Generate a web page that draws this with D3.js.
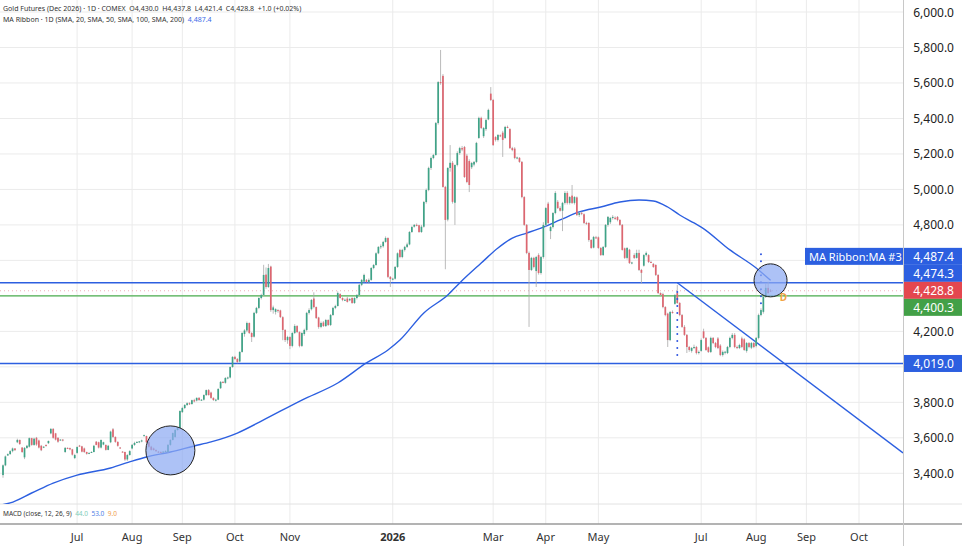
<!DOCTYPE html>
<html>
<head>
<meta charset="utf-8">
<script src="https://cdn.jsdelivr.net/npm/d3@7"></script>
<style>
  body { margin: 0; background: #fff; }
  svg { display: block; font-family: "Noto Sans", sans-serif; }
</style>
</head>
<body>
<div id="chart"></div>
<script>
// daily bars [open, high, low, close], first bar = 2025-05-19
const candles = [
  [3390,3450,3375,3445],[3445,3500,3440,3495],[3500,3512,3500,3508],[3508,3530,3505,3525],[3525,3545,3518,3540],[3540,3542,3528,3530],[3575,3595,3570,3588],[3588,3590,3560,3565],[3545,3548,3515,3520],[3490,3548,3480,3543],
  [3543,3560,3538,3555],[3550,3602,3545,3598],[3598,3600,3555,3560],[3560,3600,3555,3595],[3600,3605,3555,3562],[3585,3590,3540,3545],[3555,3560,3525,3530],[3545,3552,3542,3550],[3560,3562,3550,3554],[3570,3585,3565,3582],
  [3625,3655,3620,3650],[3650,3655,3595,3600],[3625,3628,3585,3590],[3600,3603,3572,3578],[3588,3592,3585,3590],[3590,3592,3580,3585],[3520,3548,3515,3543],[3543,3546,3538,3542],[3542,3545,3530,3535],[3535,3538,3500,3505],
  [3486,3510,3480,3503],[3515,3552,3510,3548],[3556,3560,3550,3552],[3552,3555,3518,3522],[3540,3545,3515,3520],[3520,3522,3505,3510],[3512,3518,3508,3515],[3518,3524,3515,3520],[3520,3560,3518,3555],[3578,3582,3558,3560],
  [3575,3578,3540,3545],[3545,3590,3540,3588],[3562,3578,3558,3575],[3560,3562,3528,3532],[3532,3560,3530,3555],[3575,3640,3570,3635],[3648,3655,3600,3605],[3605,3608,3572,3577],[3577,3580,3550,3555],[3545,3548,3540,3543],
  [3522,3525,3518,3520],[3520,3522,3470,3478],[3478,3508,3470,3503],[3503,3530,3500,3525],[3540,3565,3535,3560],[3560,3578,3555,3571],[3571,3580,3570,3577],[3577,3582,3570,3580],[3580,3590,3575,3585],[3612,3618,3608,3615],
  [3610,3612,3570,3575],[3575,3578,3545,3550],[3550,3555,3528,3532],[3540,3545,3528,3531],[3531,3535,3520,3525],[3522,3526,3516,3520],[3520,3524,3512,3518],[3518,3525,3515,3522],[3522,3530,3518,3525],[3520,3565,3515,3560],
  [3560,3592,3555,3588],[3588,3630,3585,3627],[3605,3650,3600,3644],[3644,3660,3640,3655],[3655,3755,3650,3751],[3745,3775,3740,3768],[3768,3790,3762,3785],[3785,3800,3780,3795],[3795,3800,3785,3790],[3790,3815,3788,3812],
  [3812,3820,3800,3805],[3810,3828,3805,3825],[3825,3830,3808,3813],[3813,3818,3808,3815],[3815,3845,3810,3841],[3841,3872,3836,3869],[3869,3875,3838,3841],[3855,3860,3820,3825],[3825,3828,3808,3813],[3813,3820,3805,3815],
  [3815,3880,3812,3875],[3880,3920,3875,3915],[3915,3920,3908,3912],[3910,3942,3905,3937],[3937,3945,3930,3940],[3940,4002,3935,3999],[3999,4060,3995,4056],[4056,4062,4040,4044],[4044,4050,4020,4027],[4030,4088,4025,4084],
  [4084,4195,4080,4191],[4185,4212,4170,4205],[4205,4255,4195,4247],[4247,4250,4185,4191],[4191,4195,4140,4168],[4170,4310,4165,4304],[4304,4338,4298,4332],[4332,4392,4325,4388],[4388,4412,4380,4405],[4405,4575,4400,4518],
  [4520,4560,4440,4450],[4450,4580,4445,4557],[4565,4570,4310,4320],[4320,4345,4300,4335],[4310,4330,4295,4325],[4320,4325,4305,4315],[4318,4322,4275,4281],[4280,4285,4150,4208],[4208,4212,4140,4151],[4150,4175,4130,4168],
  [4168,4172,4100,4118],[4118,4195,4110,4191],[4191,4240,4185,4230],[4230,4235,4190,4196],[4196,4200,4110,4118],[4118,4195,4112,4191],[4185,4215,4175,4208],[4208,4310,4200,4304],[4304,4330,4295,4320],[4325,4382,4318,4377],
  [4385,4420,4330,4337],[4337,4340,4270,4275],[4278,4282,4215,4225],[4225,4255,4218,4247],[4250,4258,4225,4230],[4230,4270,4225,4264],[4264,4268,4230,4236],[4236,4298,4230,4292],[4292,4338,4288,4332],[4332,4350,4325,4343],
  [4343,4425,4340,4416],[4410,4415,4385,4388],[4388,4392,4370,4377],[4377,4385,4372,4378],[4385,4395,4362,4366],[4375,4388,4370,4382],[4388,4392,4355,4360],[4360,4392,4355,4388],[4388,4410,4380,4405],[4405,4468,4400,4462],
  [4462,4495,4455,4490],[4480,4525,4475,4518],[4490,4495,4475,4478],[4478,4498,4470,4490],[4490,4562,4485,4557],[4557,4580,4550,4574],[4574,4645,4570,4640],[4640,4680,4635,4676],[4676,4690,4665,4680],[4680,4710,4672,4704],
  [4704,4735,4700,4726],[4726,4730,4500,4507],[4507,4512,4450,4495],[4495,4502,4488,4497],[4497,4568,4492,4563],[4563,4645,4558,4640],[4659,4665,4612,4619],[4619,4665,4612,4659],[4659,4682,4650,4676],[4676,4700,4670,4690],
  [4690,4765,4685,4760],[4760,4795,4755,4788],[4790,4805,4785,4800],[4800,4808,4792,4798],[4798,4800,4755,4760],[4760,4800,4755,4790],[4790,4935,4785,4929],[4929,5005,4920,4997],[4997,5128,4990,5121],[5121,5185,5110,5177],
  [5177,5200,5170,5194],[5194,5380,5190,5374],[5374,5610,5365,5605],[5605,5786,5590,5600],[5640,5650,5010,5014],[5014,5020,4550,4828],[4830,5125,4820,5121],[5121,5250,5100,5150],[5150,5160,4920,4930],[4925,5140,4800,5138],
  [5138,5215,5130,5205],[5205,5240,5195,5233],[5233,5245,5215,5225],[5239,5245,5065,5070],[5190,5200,5035,5042],[5160,5170,4985,5025],[5125,5155,5115,5149],[5140,5160,5130,5155],[5155,5268,5148,5262],[5290,5410,5285,5403],
  [5403,5410,5340,5346],[5300,5352,5290,5346],[5340,5398,5330,5391],[5395,5455,5390,5448],[5540,5577,5498,5504],[5504,5510,5245,5250],[5295,5300,5270,5279],[5279,5312,5270,5307],[5305,5310,5295,5301],[5320,5330,5183,5279],
  [5290,5358,5285,5352],[5352,5360,5345,5350],[5340,5345,5228,5233],[5233,5240,5215,5222],[5230,5238,5170,5177],[5177,5185,5170,5180],[5178,5182,5150,5155],[5155,5160,4950,4957],[4957,4962,4795,4800],[4800,4805,4635,4642],
  [4642,4650,4225,4546],[4546,4620,4540,4614],[4614,4620,4555,4563],[4540,4625,4450,4619],[4630,4640,4520,4529],[4529,4625,4520,4619],[4619,4815,4610,4800],[4800,4900,4790,4895],[4920,4930,4805,4811],[4765,4795,4720,4788],
  [4788,4872,4780,4867],[4867,4990,4860,4980],[4930,4940,4890,4895],[4895,4905,4875,4880],[4880,4930,4765,4924],[4924,4990,4915,4980],[4980,4990,4915,4924],[4924,4962,4915,4957],[4965,5025,4918,4924],[4924,4962,4915,4957],
  [4955,4960,4850,4856],[4856,4872,4845,4868],[4868,4875,4855,4865],[4860,4865,4805,4811],[4811,4818,4800,4810],[4811,4815,4705,4715],[4715,4720,4665,4670],[4672,4738,4668,4732],[4730,4738,4720,4726],[4730,4735,4665,4670],
  [4670,4675,4625,4630],[4630,4680,4625,4676],[4676,4805,4670,4800],[4800,4850,4790,4845],[4815,4845,4805,4839],[4839,4855,4830,4845],[4840,4848,4828,4834],[4845,4850,4820,4828],[4828,4832,4795,4800],[4800,4805,4655,4659],
  [4668,4672,4608,4614],[4614,4675,4605,4670],[4660,4665,4580,4585],[4585,4592,4578,4588],[4630,4640,4608,4614],[4614,4660,4610,4642],[4642,4660,4540,4546],[4546,4552,4470,4530],[4570,4635,4565,4630],[4630,4650,4622,4642],
  [4630,4635,4585,4591],[4591,4598,4585,4590],[4580,4585,4558,4563],[4574,4578,4512,4518],[4518,4522,4410,4416],[4416,4420,4398,4405],[4410,4418,4330,4337],[4337,4342,4285,4292],[4300,4305,4112,4151],[4151,4315,4145,4309],
  [4309,4318,4300,4305],[4355,4410,4350,4405],[4416,4462,4355,4360],[4360,4365,4285,4292],[4292,4298,4220,4225],[4225,4235,4175,4180],[4180,4185,4078,4112],[4112,4118,4085,4095],[4090,4112,4080,4106],[4106,4125,4100,4112],
  [4112,4118,4070,4078],[4078,4092,4070,4084],[4090,4160,4085,4151],[4200,4215,4158,4163],[4163,4168,4090,4095],[4110,4115,4078,4084],[4084,4170,4078,4163],[4163,4168,4128,4134],[4134,4140,4105,4112],[4160,4168,4100,4106],
  [4120,4128,4060,4067],[4067,4092,4058,4084],[4080,4090,4070,4085],[4078,4118,4072,4112],[4112,4170,4105,4163],[4163,4190,4155,4180],[4180,4190,4105,4112],[4112,4120,4100,4106],[4106,4130,4100,4123],[4160,4170,4105,4112],
  [4155,4162,4090,4095],[4090,4140,4080,4134],[4134,4140,4105,4112],[4108,4140,4100,4134],[4134,4140,4105,4112],[4118,4168,4110,4163],[4163,4300,4155,4292],[4292,4330,4285,4320],[4310,4400,4300,4394],[4394,4470,4388,4445],
  [4445,4480,4410,4416],[4430,4437.8,4421.4,4428.8]
];

// MA Ribbon MA #3, [bar index, value]
const maRibbon = [[-1,3221],[3,3233],[12,3289],[21,3345],[31,3390],[45,3430],[54,3469],[60,3492],[70,3520],[80,3554],[87,3577],
  [98,3627],[109,3701],[125,3813],[140,3909],[152,4022],[161,4095],[166,4151],[176,4304],[186,4405],[191,4473],[200,4585],
  [207,4670],[213,4726],[219,4754],[226,4788],[233,4828],[241,4873],[250,4901],[258,4929],[266,4940],[272,4935],[278,4901],
  [283,4856],[289,4811],[292,4788],[304,4659],[315,4557],[321,4487.4]];

const priceTicks = [3400,3600,3800,4000,4200,4400,4600,4800,5000,5200,5400,5600,5800,6000];
const monthTickDates = ['2025-07-01','2025-08-01','2025-09-01','2025-10-01','2025-11-01','2026-01-01','2026-03-01','2026-04-01','2026-05-01','2026-07-01','2026-08-01','2026-09-01','2026-10-01'];
const monthTickLabels = ['Jul','Aug','Sep','Oct','Nov','2026','Mar','Apr','May','Jul','Aug','Sep','Oct'];

const blueLevels = [4474.3, 4019.0];
const greenLevel = 4400.3;
const trendPoints = [[282, 4474.3], [321, 4078]];
const dottedSpans = [[282, 4422, 4050], [317, 4635, 4320]];
const circleMarks = [[70, 3529], [321, 4487.4]];
const tagValues = [4487.4, 4474.3, 4428.8, 4400.3, 4019.0];

// ---- layout
const W = 962, H = 546;
const plotRight = 903, paneBottom = 504, axisTop = 524;
const blue = '#2c5fe0', upCol = '#3fa387', downCol = '#dd6670';

const svg = d3.select('#chart').append('svg').attr('width', W).attr('height', H);

const x = d3.scaleLinear().domain([0, 376.4]).range([3, plotRight]);
const y = d3.scaleLinear().domain([3400, 6000]).range([473.3, 12]);

// weekday calendar from first bar
const tradingDays = [];
for (let d = new Date(Date.UTC(2025, 4, 19)); tradingDays.length < 400; d.setUTCDate(d.getUTCDate() + 1)) {
  const wd = d.getUTCDay();
  if (wd !== 0 && wd !== 6) tradingDays.push(new Date(d));
}
const barOf = s => {
  const t = new Date(s + 'T00:00:00Z');
  return tradingDays.findIndex(d => d >= t);
};

svg.append('defs').append('clipPath').attr('id', 'plotClip')
  .append('rect').attr('x', 0).attr('y', 0).attr('width', plotRight).attr('height', paneBottom);

// grid
const grid = svg.append('g');
grid.selectAll('line.h').data(priceTicks).join('line')
  .attr('x1', 0).attr('x2', plotRight)
  .attr('y1', d => y(d)).attr('y2', d => y(d))
  .attr('stroke', '#ebebeb').attr('stroke-width', 1);
grid.selectAll('line.v').data(monthTickDates).join('line')
  .attr('x1', d => x(barOf(d))).attr('x2', d => x(barOf(d)))
  .attr('y1', 0).attr('y2', axisTop)
  .attr('stroke', '#ebebeb').attr('stroke-width', 1);

// pane separators / axis borders
svg.append('line').attr('x1', 0).attr('x2', W).attr('y1', paneBottom).attr('y2', paneBottom)
  .attr('stroke', '#e2e2e2');
svg.append('line').attr('x1', 0).attr('x2', W).attr('y1', axisTop).attr('y2', axisTop)
  .attr('stroke', '#9a9a9a').attr('stroke-width', 1.5);
svg.append('line').attr('x1', plotRight + 0.5).attr('x2', plotRight + 0.5).attr('y1', 0).attr('y2', H)
  .attr('stroke', '#c8c8c8');

const plot = svg.append('g').attr('clip-path', 'url(#plotClip)');

// horizontal levels
const lastClose = candles[candles.length - 1][3];
plot.append('line').attr('x1', 0).attr('x2', plotRight)
  .attr('y1', y(lastClose)).attr('y2', y(lastClose))
  .attr('stroke', '#e06070').attr('stroke-opacity', 0.5).attr('stroke-dasharray', '1,3');
plot.append('line').attr('x1', 0).attr('x2', plotRight)
  .attr('y1', y(greenLevel)).attr('y2', y(greenLevel))
  .attr('stroke', '#4caf50').attr('stroke-width', 1.3);
plot.selectAll('line.lvl').data(blueLevels).join('line')
  .attr('x1', 0).attr('x2', plotRight)
  .attr('y1', d => y(d)).attr('y2', d => y(d))
  .attr('stroke', blue).attr('stroke-width', 1.5);

// MA line
plot.append('path').datum(maRibbon)
  .attr('d', d3.line().x(d => x(d[0])).y(d => y(d[1])).curve(d3.curveMonotoneX))
  .attr('fill', 'none').attr('stroke', blue).attr('stroke-width', 1.4);

// trend line, extended to the right edge
const [t0, t1] = trendPoints;
const slope = (t1[1] - t0[1]) / (t1[0] - t0[0]);
const tEnd = x.domain()[1];
plot.append('line')
  .attr('x1', x(t0[0])).attr('y1', y(t0[1]))
  .attr('x2', x(tEnd)).attr('y2', y(t0[1] + slope * (tEnd - t0[0])))
  .attr('stroke', blue).attr('stroke-width', 1.4);

// candles
const bw = 1.7;
const bars = plot.append('g').selectAll('g').data(candles).join('g');
bars.append('line')
  .attr('x1', (d, i) => x(i)).attr('x2', (d, i) => x(i))
  .attr('y1', d => y(d[1])).attr('y2', d => y(d[2]))
  .attr('stroke', '#a9a9a9').attr('stroke-width', 0.8);
bars.append('rect')
  .attr('x', (d, i) => x(i) - bw / 2).attr('width', bw)
  .attr('y', d => y(Math.max(d[0], d[3])))
  .attr('height', d => Math.max(1, Math.abs(y(d[0]) - y(d[3]))))
  .attr('fill', d => d[3] >= d[0] ? upCol : downCol);

// dotted verticals
plot.selectAll('line.dot').data(dottedSpans).join('line')
  .attr('x1', d => x(d[0])).attr('x2', d => x(d[0]))
  .attr('y1', d => y(d[1])).attr('y2', d => y(d[2]))
  .attr('stroke', '#2f55e0').attr('stroke-width', 2)
  .attr('stroke-linecap', 'round').attr('stroke-dasharray', '0,7');

// highlight circles
const circleRadius = [24.5, 16.5];
plot.selectAll('circle.mark').data(circleMarks).join('circle')
  .attr('cx', d => x(d[0])).attr('cy', d => y(d[1]))
  .attr('r', (d, i) => circleRadius[i])
  .attr('fill', '#8eabf2').attr('fill-opacity', 0.72)
  .attr('stroke', '#222').attr('stroke-width', 1);

// "D" marker right of the last bar
svg.append('text').attr('x', x(candles.length - 1) + 13).attr('y', y(lastClose) + 6)
  .attr('text-anchor', 'middle').attr('dominant-baseline', 'central')
  .attr('font-size', 10).attr('font-weight', 'bold').attr('fill', '#f2a444').text('D');

// right axis tags (stacked so they don't collide)
const tagColors = [blue, blue, '#e4474f', '#43a047', blue];
const tags = tagValues.map((v, k) => ({ v, y: y(v), color: tagColors[k] }));
const gap = 17;
for (let it = 0; it < 300; it++) {
  tags.sort((a, b) => a.y - b.y);
  for (let k = 1; k < tags.length; k++) {
    const d = tags[k].y - tags[k - 1].y;
    if (d < gap) { const s = gap - d; tags[k].y += s * 0.4; tags[k - 1].y -= s * 0.6; }
  }
}

const fmt = d3.format(',.1f');
const axis = svg.append('g');
axis.selectAll('text.tick').data(priceTicks.filter(p => tags.every(t => Math.abs(t.y - y(p)) > 12)))
  .join('text')
  .attr('x', 954).attr('y', d => y(d))
  .attr('text-anchor', 'end').attr('dominant-baseline', 'central')
  .attr('font-size', 12).attr('fill', '#222').text(d => fmt(d));

const tagG = axis.selectAll('g.tag').data(tags).join('g');
tagG.append('rect')
  .attr('x', plotRight + 1).attr('y', d => d.y - 8.5).attr('width', W - plotRight - 1).attr('height', 17)
  .attr('fill', d => d.color);
tagG.append('text')
  .attr('x', 954).attr('y', d => d.y)
  .attr('text-anchor', 'end').attr('dominant-baseline', 'central')
  .attr('font-size', 12).attr('fill', '#fff').text(d => fmt(d.v));

// MA ribbon name tag
const maTag = tags.find(t => t.v === maRibbon[maRibbon.length - 1][1]);
svg.append('rect').attr('x', 805).attr('y', maTag.y - 8.5).attr('width', plotRight - 805).attr('height', 17)
  .attr('fill', blue);
svg.append('text').attr('x', 809).attr('y', maTag.y)
  .attr('dominant-baseline', 'central').attr('font-size', 11).attr('fill', '#fff')
  .text('MA Ribbon:MA #3');

// x axis
svg.selectAll('text.month').data(monthTickDates).join('text')
  .attr('x', d => x(barOf(d))).attr('y', 536)
  .attr('text-anchor', 'middle').attr('dominant-baseline', 'central')
  .attr('font-size', 11).attr('fill', '#333')
  .attr('font-weight', (d, i) => /^\d+$/.test(monthTickLabels[i]) ? 'bold' : 'normal')
  .text((d, i) => monthTickLabels[i]);

// legends
const head = svg.append('g').attr('font-size', 7).attr('fill', '#333');
head.append('text').attr('x', 3).attr('y', 10.5).style('white-space', 'pre')
  .text('Gold Futures (Dec 2026) \u00b7 1D \u00b7 COMEX  O4,430.0  H4,437.8  L4,421.4  C4,428.8  +1.0 (+0.02%)');
const maText = head.append('text').attr('x', 3).attr('y', 21.5).style('white-space', 'pre');
maText.append('tspan').text('MA Ribbon \u00b7 1D (SMA, 20, SMA, 50, SMA, 100, SMA, 200)  ');
maText.append('tspan').attr('fill', '#3b6ae8').text('4,487.4');

const macd = svg.append('text').attr('x', 3).attr('y', 516).attr('font-size', 6.5).attr('fill', '#333')
  .style('white-space', 'pre');
macd.append('tspan').text('MACD (close, 12, 26, 9)  ');
macd.append('tspan').attr('fill', '#7fcdb9').text('44.0  ');
macd.append('tspan').attr('fill', '#4f7fe6').text('53.0  ');
macd.append('tspan').attr('fill', '#f0a050').text('9.0');
</script>
</body>
</html>
